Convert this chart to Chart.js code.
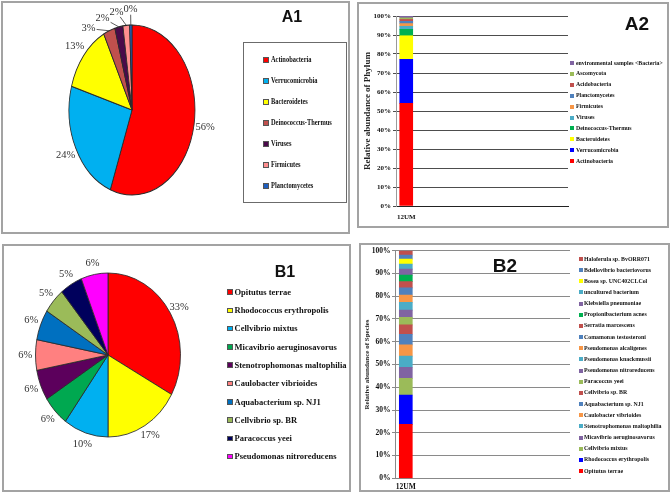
<!DOCTYPE html>
<html><head><meta charset="utf-8">
<script src="https://cdn.jsdelivr.net/npm/chart.js@4.4.1/dist/chart.umd.min.js"></script>
<style>
html,body{margin:0;padding:0;background:#fff;}
body{position:relative;width:671px;height:494px;overflow:hidden;}
.panel{position:absolute;box-sizing:border-box;border:2px solid #a3a3a3;}
.lgbox{position:absolute;box-sizing:border-box;border:1px solid #6b6b6b;}
canvas{position:absolute;left:0;top:0;}
.ttl{position:absolute;font-family:"Liberation Sans",Arial,sans-serif;font-weight:bold;color:#111;transform:translate(-50%,-50%);white-space:nowrap;line-height:1;}
.lgi{position:absolute;white-space:nowrap;font-family:"Liberation Serif","Times New Roman",serif;font-weight:bold;color:#111;display:flex;align-items:center;line-height:1;height:10px;}
.lgi .sw{display:inline-block;box-sizing:border-box;flex:none;}
.lgi .tx{display:inline-block;transform-origin:0 50%;}
</style></head><body>
<div class="panel" style="left:1px;top:1px;width:349px;height:233px"></div>
<div class="panel" style="left:357px;top:2px;width:312px;height:226px"></div>
<div class="panel" style="left:2px;top:244px;width:349px;height:248px"></div>
<div class="panel" style="left:359px;top:243px;width:311px;height:249px"></div>
<div class="lgbox" style="left:243px;top:42px;width:104px;height:161px"></div>
<canvas id="cA1" width="671" height="494"></canvas>
<canvas id="cA2" width="671" height="494"></canvas>
<canvas id="cB1" width="671" height="494"></canvas>
<canvas id="cB2" width="671" height="494"></canvas>
<div class="ttl" style="left:292px;top:17px;font-size:16px">A1</div>
<div class="ttl" style="left:637px;top:23px;font-size:19px">A2</div>
<div class="ttl" style="left:285px;top:272px;font-size:16px">B1</div>
<div class="ttl" style="left:505px;top:265px;font-size:19px">B2</div>
<script>
// ---------------- data ----------------
const a1Phyla = ['Actinobacteria','Verrucomicrobia','Bacteroidetes','Deinococcus-Thermus','Viruses','Firmicutes','Planctomycetes'];
const a1Values = [55.6, 23.9, 13.1, 3.0, 2.1, 1.7, 0.6];
const a1PctLabels = ['56%','24%','13%','3%','2%','2%','0%'];
const a1Colors = ['#FF0000','#00B0F0','#FFFF00','#C0504D','#4A0A4A','#FF8F8F','#1F5FC0'];

const a2Samples = ['12UM'];
const a2Phyla = ['Actinobacteria','Verrucomicrobia','Bacteroidetes','Deinococcus-Thermus','Viruses','Firmicutes','Planctomycetes','Acidobacteria','Ascomycota','environmental samples <Bacteria>'];
const a2Values = [54.0, 23.2, 12.4, 3.4, 1.6, 1.4, 1.2, 1.0, 0.8, 1.0];
const a2Colors = ['#FF0000','#0000FF','#FFFF00','#00B050','#4BACC6','#F79646','#4F81BD','#C0504D','#9BBB59','#8064A2'];

const b1Species = ['Opitutus terrae','Rhodococcus erythropolis','Cellvibrio mixtus','Micavibrio aeruginosavorus','Stenotrophomonas maltophilia','Caulobacter vibrioides','Aquabacterium sp. NJ1','Cellvibrio sp. BR','Paracoccus yeei','Pseudomonas nitroreducens'];
const b1Values = [33, 17, 10, 6, 6, 6, 6, 5, 5, 6];
const b1PctLabels = ['33%','17%','10%','6%','6%','6%','6%','5%','5%','6%'];
const b1Colors = ['#FF0000','#FFFF00','#00B0F0','#00A850','#5C005C','#FF8080','#0070C0','#9BBB59','#00005C','#FF00FF'];

const b2Samples = ['12UM'];
const b2Species = ['Opitutus terrae','Rhodococcus erythropolis','Cellvibrio mixtus','Micavibrio aeruginosavorus','Stenotrophomonas maltophilia','Caulobacter vibrioides','Aquabacterium sp. NJ1','Cellvibrio sp. BR','Paracoccus yeei','Pseudomonas nitroreducens','Pseudomonas knackmussii','Pseudomonas alcaligenes','Comamonas testosteroni','Serratia marcescens','Propionibacterium acnes','Klebsiella pneumoniae','uncultured bacterium','Bosea sp. UNC402CLCol','Bdellovibrio bacteriovorus','Haloferula sp. BvORR071'];
const b2Values = [23.7, 12.9, 7.3, 4.9, 4.9, 4.9, 4.7, 4.1, 3.3, 3.2, 3.4, 3.2, 3.2, 2.7, 2.9, 2.6, 2.2, 2.2, 1.8, 1.9];
const b2Colors = ['#FF0000','#0000FF','#9BBB59','#8064A2','#4BACC6','#F79646','#4F81BD','#C0504D','#9BBB59','#8064A2','#4BACC6','#F79646','#4F81BD','#C0504D','#00B050','#8064A2','#4BACC6','#FFFF00','#4F81BD','#C0504D'];

// ---------------- helpers ----------------
const W = 671, H = 494;
const SERIF = "'Liberation Serif','Times New Roman',serif";

function piePlugin(cfg) {
  return {
    id: 'pieDeco',
    beforeDatasetsDraw(chart) {
      const a = chart.getDatasetMeta(0).data[0];
      const ctx = chart.ctx;
      ctx.save();
      ctx.translate(a.x, a.y); ctx.scale(1, cfg.sy); ctx.translate(-a.x, -a.y);
    },
    afterDatasetsDraw(chart) { chart.ctx.restore(); },
    afterDraw(chart) {
      const ctx = chart.ctx;
      const meta = chart.getDatasetMeta(0);
      const total = meta.data.reduce((s, a) => s + (a.endAngle - a.startAngle), 0);
      const items = meta.data.map((a, i) => {
        const mid = (a.startAngle + a.endAngle) / 2;
        const r = a.outerRadius, R = r * cfg.rf;
        return { i, frac: (a.endAngle - a.startAngle) / total, cx: a.x, cy: a.y, R,
          x: a.x + Math.cos(mid) * R, y: a.y + Math.sin(mid) * R * cfg.sy,
          ax: a.x + Math.cos(mid) * r, ay: a.y + Math.sin(mid) * r * cfg.sy };
      });
      if (cfg.gap) {
        for (let k = items.length - 2; k >= 0; k--) {
          const c = items[k], n = items[k + 1];
          if (c.y < c.cy && n.y < n.cy && c.x > n.x - cfg.gap) {
            c.x = n.x - cfg.gap;
            const d = (c.x - c.cx) / c.R;
            c.y = c.cy - Math.sqrt(Math.max(0, 1 - d * d)) * c.R * cfg.sy;
          }
        }
      }
      ctx.save();
      ctx.font = cfg.font;
      ctx.fillStyle = '#333';
      ctx.strokeStyle = '#333';
      ctx.lineWidth = 0.8;
      ctx.textAlign = 'center';
      ctx.textBaseline = 'middle';
      items.forEach(it => {
        const txt = cfg.texts[it.i];
        ctx.fillText(txt, it.x, it.y);
        if (it.frac < cfg.leaderBelow) {
          const w = ctx.measureText(txt).width, h = 8;
          const dx = it.ax - it.x, dy = it.ay - it.y;
          const t = Math.min((w / 2 + 1) / Math.max(Math.abs(dx), 1e-6), (h / 2 + 1) / Math.max(Math.abs(dy), 1e-6));
          ctx.beginPath();
          ctx.moveTo(it.x + dx * t, it.y + dy * t);
          ctx.lineTo(it.ax, it.ay);
          ctx.stroke();
        }
      });
      ctx.restore();
    }
  };
}

function makePie(id, names, values, colors, geo, cfg) {
  return new Chart(document.getElementById(id), {
    type: 'pie',
    data: { labels: names, datasets: [{ data: values, backgroundColor: colors, borderColor: '#2a2a2a', borderWidth: 0.8, radius: geo.r, clip: false }] },
    options: {
      responsive: false, animation: false, events: [],
      layout: { padding: { left: geo.cx - geo.r, right: W - geo.cx - geo.r, top: geo.cy - geo.r, bottom: H - geo.cy - geo.r } },
      plugins: { legend: { display: false }, tooltip: { enabled: false } }
    },
    plugins: [piePlugin(cfg)]
  });
}

function makeStack(id, samples, names, values, colors, st) {
  return new Chart(document.getElementById(id), {
    type: 'bar',
    data: {
      datasets: names.map((n, k) => ({
        label: n,
        data: samples.map((s, i) => ({ x: i, y: values[k] })),
        backgroundColor: colors[k], borderWidth: 0, barThickness: st.barW
      }))
    },
    options: {
      responsive: false, animation: false, events: [],
      layout: { padding: { left: st.left - st.yW, right: W - st.right, top: st.top, bottom: H - st.bottom - st.xH } },
      plugins: { legend: { display: false }, tooltip: { enabled: false } },
      scales: {
        x: {
          type: 'linear', stacked: true, offset: false, min: st.xMin, max: st.xMax,
          afterBuildTicks: s => { s.ticks = samples.map((c, i) => ({ value: i })); },
          afterFit: s => { s.height = st.xH; },
          grid: { display: false, drawTicks: false, offset: false },
          border: { display: true, color: st.xAxisColor, width: 1 },
          ticks: { padding: st.xPad, color: '#111', autoSkip: false, maxRotation: 0,
                   font: { family: SERIF, weight: 'bold', size: st.tickSize },
                   callback: v => samples[v] }
        },
        y: {
          stacked: true, min: 0, max: 100,
          afterFit: s => { s.width = st.yW; },
          ticks: { stepSize: 10, padding: st.yPad, color: '#111',
                   font: { family: SERIF, weight: 'bold', size: st.tickSize },
                   callback: v => v + '%' },
          grid: { color: st.gridColor, lineWidth: 1, tickLength: st.tickLen },
          border: { display: true, color: st.yAxisColor, width: 1 },
          title: { display: true, text: st.yTitle, color: '#222',
                   font: { family: SERIF, weight: 'bold', size: st.titleSize },
                   padding: { top: st.titlePad, bottom: 0 } }
        }
      }
    }
  });
}

function makeLegend(names, colors, L) {
  const order = names.map((n, i) => i);
  if (L.reverse) order.reverse();
  order.forEach((idx, j) => {
    const d = document.createElement('div');
    d.className = 'lgi';
    d.style.left = L.x + 'px';
    d.style.top = (L.y0 + j * L.dy - 5) + 'px';
    d.style.fontSize = L.font + 'px';
    const sw = document.createElement('span');
    sw.className = 'sw';
    sw.style.width = L.sq + 'px';
    sw.style.height = L.sq + 'px';
    sw.style.background = colors[idx];
    sw.style.marginRight = L.gap + 'px';
    if (L.border) sw.style.border = '0.5px solid #555';
    const tx = document.createElement('span');
    tx.className = 'tx';
    tx.textContent = names[idx];
    tx.style.transform = 'scaleX(' + L.sx + ')';
    d.appendChild(sw); d.appendChild(tx);
    document.body.appendChild(d);
  });
}

// ---------------- charts ----------------
makePie('cA1', a1Phyla, a1Values, a1Colors, { cx: 132, cy: 110, r: 63 },
  { sy: 85 / 63, rf: 1.18, gap: 14, texts: a1PctLabels, font: "10.5px " + SERIF, leaderBelow: 0.05 });

makePie('cB1', b1Species, b1Values, b1Colors, { cx: 108, cy: 355, r: 72.5 },
  { sy: 82 / 72.5, rf: 1.14, gap: 0, texts: b1PctLabels, font: "10.5px " + SERIF, leaderBelow: 0 });

makeStack('cA2', a2Samples, a2Phyla, a2Values, a2Colors, {
  left: 396, right: 568, top: 16, bottom: 206, yW: 36, xH: 20, xMin: -0.5, xMax: 7.9, barW: 13,
  xPad: 6.5, yPad: 2, tickLen: 3, tickSize: 7, gridColor: '#4d4d4d', xAxisColor: '#222', yAxisColor: '#9a9a9a',
  yTitle: 'Relative abundance of Phylum', titleSize: 9, titlePad: 2.6
});

makeStack('cB2', b2Samples, b2Species, b2Values, b2Colors, {
  left: 395, right: 570, top: 250.7, bottom: 478.3, yW: 36, xH: 14, xMin: -0.5, xMax: 7.6, barW: 13,
  xPad: 4.2, yPad: 1.5, tickLen: 3, tickSize: 7.5, gridColor: '#8a8a8a', xAxisColor: '#888', yAxisColor: '#8a8a8a',
  yTitle: 'Relative abundance of Species', titleSize: 7, titlePad: 3.8
});

// ---------------- legends ----------------
makeLegend(a1Phyla, a1Colors, { x: 263, y0: 60, dy: 21, sq: 6, gap: 1.5, font: 8, sx: 0.8, border: true });
makeLegend(a2Phyla, a2Colors, { x: 570, y0: 63, dy: 10.9, sq: 4, gap: 1.5, font: 6.8, sx: 0.86, reverse: true });
makeLegend(b1Species, b1Colors, { x: 227, y0: 292, dy: 18.3, sq: 5.5, gap: 2, font: 8.5, sx: 1, border: true });
makeLegend(b2Species, b2Colors, { x: 578.5, y0: 259, dy: 11.16, sq: 4, gap: 1.5, font: 7, sx: 0.84, reverse: true });
</script>
</body></html>
